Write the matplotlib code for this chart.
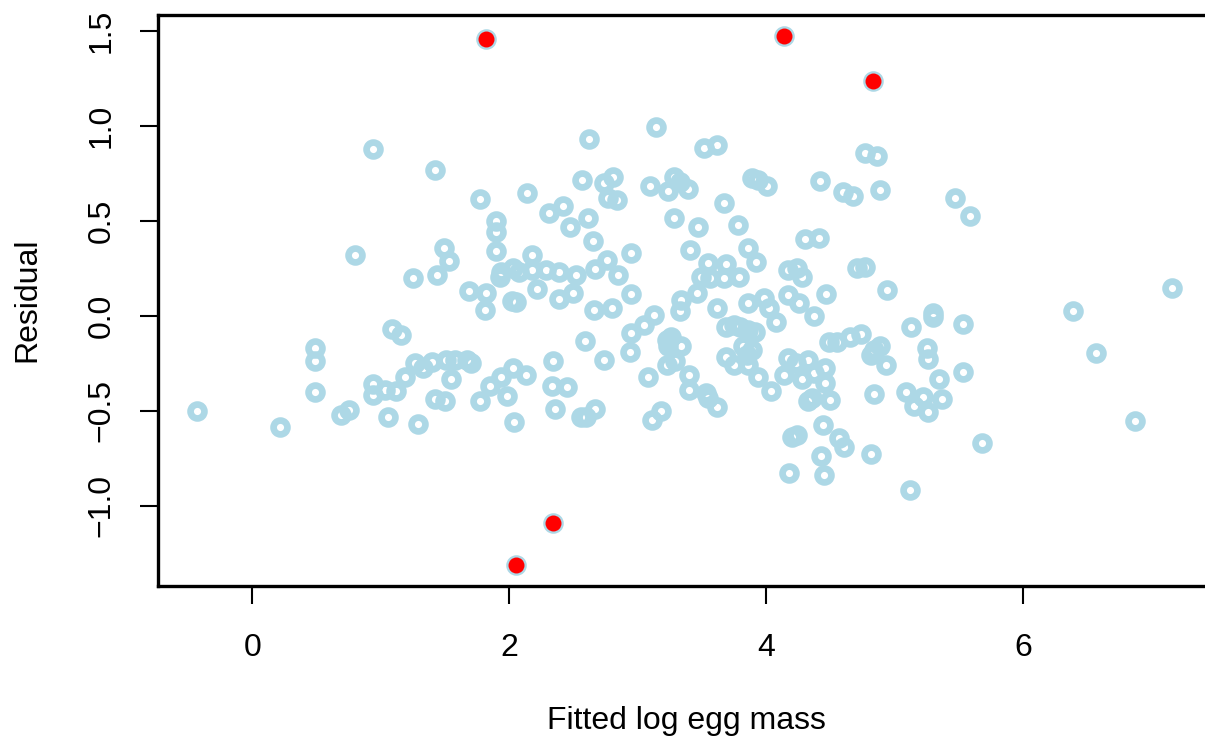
import numpy as np
import matplotlib
matplotlib.use("Agg")
import matplotlib.pyplot as plt

plt.rcParams['font.family'] = ['Liberation Sans', 'DejaVu Sans']

# fitted log egg mass (x) and residual (y)
fitted = [
    -0.43, 0.22, 0.80, 0.94, 0.49, 0.49, 0.49, 0.69, 0.75,
    0.94, 0.94, 1.03, 1.12, 1.19, 1.27, 1.09, 1.16, 1.06, 1.29,
    1.25, 1.42, 1.44, 1.49, 1.53,
    1.33, 1.40, 1.51, 1.58, 1.67, 1.70, 1.55, 1.42, 1.50, 1.77,
    1.85, 1.94, 2.03, 2.13, 1.98, 2.33, 2.45, 2.36,
    2.56, 2.60, 2.67, 2.04, 2.34, 2.74, 2.59,
    2.62, 2.57, 1.77, 2.14, 2.74, 2.81, 2.77, 2.84, 2.31, 2.42,
    2.61, 2.47, 1.90, 1.90, 2.65, 1.90, 2.18,
    1.94, 2.03, 2.08, 2.18, 2.29, 2.39, 2.52, 1.93,
    2.67, 2.76, 2.85, 1.69, 1.82, 2.22, 2.39, 2.50, 2.02, 2.05,
    1.81, 2.66, 2.80,
    3.14, 3.52, 3.62, 3.10, 3.28, 3.33, 3.39, 3.24,
    3.89, 3.94, 4.01, 4.42, 3.67, 3.28, 3.47, 3.78, 4.30, 4.41,
    2.95, 3.41, 3.86, 3.92,
    3.55, 3.69, 3.49, 3.56, 3.67, 3.79, 4.17, 4.24, 4.28,
    2.95, 3.34, 3.46, 3.13, 3.62, 3.86, 3.98, 4.02, 4.17, 4.26,
    4.37, 3.33,
    4.08, 2.95, 3.05, 2.94, 3.08, 3.11, 3.18,
    3.23, 3.26, 3.34, 3.24, 3.23, 3.29, 3.40, 3.40, 3.53, 3.55, 3.62,
    3.69, 3.75, 3.80, 3.86, 3.91, 3.69, 3.75, 3.82, 3.89, 3.85,
    3.86, 3.94, 4.04,
    4.17, 4.23, 4.33, 4.14, 4.28, 4.37, 4.33, 4.36, 4.20, 4.24, 4.18,
    4.77, 4.86, 4.60, 4.68, 4.89, 5.47, 5.59, 4.71, 4.77, 4.94, 4.47,
    4.49, 4.55, 4.65, 4.74, 4.84, 4.89, 4.93, 4.82,
    5.13, 5.30, 5.30, 5.53, 5.25, 5.26, 5.35, 5.37, 5.53,
    5.09, 5.15, 5.22, 5.26, 5.68, 5.12, 4.84, 4.82,
    4.46, 4.46, 4.50, 4.44, 4.57, 4.61, 4.43, 4.45,
    7.16, 6.39, 6.57, 6.87,
]
residual = [
    -0.50, -0.586, 0.32, 0.877, -0.167, -0.238, -0.40, -0.52, -0.495,
    -0.36, -0.416, -0.39, -0.393, -0.32, -0.25, -0.07, -0.10, -0.53, -0.57,
    0.20, 0.767, 0.216, 0.36, 0.29,
    -0.275, -0.245, -0.235, -0.23, -0.235, -0.25, -0.333, -0.437, -0.45, -0.446,
    -0.37, -0.32, -0.275, -0.31, -0.42, -0.37, -0.377, -0.49,
    -0.535, -0.535, -0.49, -0.56, -0.24, -0.23, -0.13,
    0.93, 0.716, 0.616, 0.646, 0.70, 0.73, 0.62, 0.61, 0.54, 0.58,
    0.514, 0.47, 0.50, 0.44, 0.395, 0.34, 0.32,
    0.233, 0.25, 0.233, 0.24, 0.24, 0.233, 0.216, 0.207,
    0.247, 0.295, 0.216, 0.13, 0.12, 0.14, 0.09, 0.12, 0.08, 0.075,
    0.03, 0.03, 0.04,
    0.996, 0.886, 0.90, 0.686, 0.733, 0.707, 0.668, 0.658,
    0.728, 0.716, 0.686, 0.71, 0.593, 0.517, 0.47, 0.48, 0.405, 0.41,
    0.33, 0.347, 0.356, 0.286,
    0.277, 0.272, 0.207, 0.198, 0.198, 0.207, 0.242, 0.25, 0.207,
    0.114, 0.084, 0.12, 0.005, 0.04, 0.067, 0.093, 0.04, 0.11, 0.067,
    0.0, 0.023,
    -0.03, -0.09, -0.047, -0.188, -0.32, -0.547, -0.50,
    -0.126, -0.109, -0.16, -0.16, -0.258, -0.24, -0.31, -0.39, -0.407, -0.433, -0.48,
    -0.056, -0.047, -0.056, -0.074, -0.083, -0.214, -0.258, -0.16, -0.18, -0.205,
    -0.258, -0.32, -0.393,
    -0.223, -0.249, -0.23, -0.31, -0.33, -0.30, -0.45, -0.433, -0.64, -0.625, -0.825,
    0.86, 0.84, 0.65, 0.63, 0.663, 0.62, 0.526, 0.25, 0.258, 0.135, 0.117,
    -0.135, -0.135, -0.112, -0.095, -0.18, -0.16, -0.258, -0.205,
    -0.056, 0.014, -0.007, -0.042, -0.17, -0.228, -0.333, -0.438, -0.293,
    -0.40, -0.474, -0.425, -0.504, -0.67, -0.916, -0.41, -0.73,
    -0.275, -0.354, -0.442, -0.574, -0.644, -0.688, -0.74, -0.84,
    0.146, 0.023, -0.196, -0.556,
]

# outlying points, highlighted in red
out_fitted = [1.82, 4.14, 4.83, 2.34, 2.05]
out_residual = [1.458, 1.475, 1.237, -1.09, -1.31]

x_ticks = [0, 2, 4, 6]
y_ticks = [-1.0, -0.5, 0.0, 0.5, 1.0, 1.5]

all_x = np.array(fitted + out_fitted)
all_y = np.array(residual + out_residual)

W, H = 1205, 738
fig = plt.figure(figsize=(W / 100, H / 100), dpi=100)

# R style 4% padding on both axes
xr = all_x.max() - all_x.min()
yr = all_y.max() - all_y.min()
xlim = (all_x.min() - 0.04 * xr, all_x.max() + 0.04 * xr)
ylim = (all_y.min() - 0.04 * yr, all_y.max() + 0.04 * yr)

ax = fig.add_axes([158 / W, (H - 585.8) / H, (1211 - 158) / W, (585.8 - 14.6) / H])
ax.set_xlim(*xlim)
ax.set_ylim(*ylim)

blue = '#ADD8E6'
ax.plot(all_x, all_y, linestyle='none', marker='o', markersize=10,
        markerfacecolor='none', markeredgecolor=blue, markeredgewidth=4.8)
ax.plot(out_fitted, out_residual, linestyle='none', marker='o', markersize=11.5,
        markerfacecolor='red', markeredgecolor='none')

for s in ax.spines.values():
    s.set_linewidth(2.4)
    s.set_color('black')

ax.set_xticks(x_ticks)
ax.set_xticklabels([str(t) for t in x_ticks])
ax.set_yticks(y_ticks)
ax.set_yticklabels([f'{t:.1f}'.replace('-', '\u2212') for t in y_ticks])
ax.tick_params(direction='out', length=13, width=1.5, labelsize=23, color='black')
ax.tick_params(axis='x', pad=21)
ax.tick_params(axis='y', pad=17)
for lab in ax.get_yticklabels():
    lab.set_rotation(90)
    lab.set_va('center')

fig.text(686 / W, 1 - 721 / H, 'Fitted log egg mass', ha='center', va='center', fontsize=23)
fig.text(27 / W, 1 - 300 / H, 'Residual', ha='center', va='center', rotation=90, fontsize=23)

fig.savefig('out.png', dpi=100)
